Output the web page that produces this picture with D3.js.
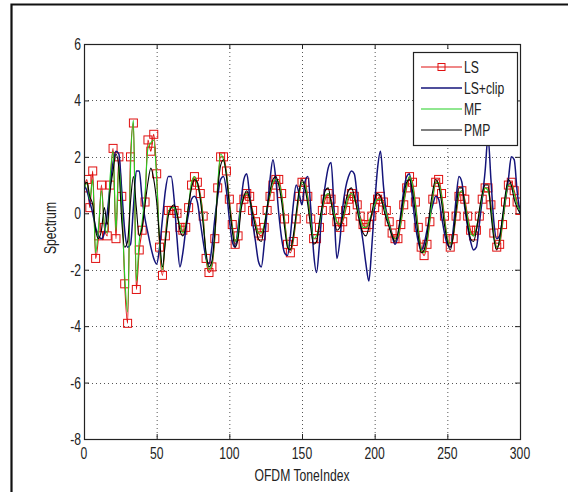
<!DOCTYPE html>
<html>
<head>
<meta charset="utf-8">
<script src="https://cdn.jsdelivr.net/npm/d3@7"></script>
<style>
  body { margin: 0; background: #ffffff; }
  text { font-family: "Liberation Sans", Arial, sans-serif; fill: #222; }
  .tickLabel { font-size: 16px; }
  .axisLabel { font-size: 16px; }
  .legendLabel { font-size: 16px; }
</style>
</head>
<body>
<div id="graph"></div>
<script>

// tone index of each sample (every 2nd tone, 0..300)
var toneIndex = d3.range (0, 301, 2);

// one value per toneIndex entry
var lsValues = [
     0.9,  1.2,  0.2,  1.5, -1.6, -0.8,  1.0, -0.5, -0.8,  1.0,  2.3, -0.9,  2.0,  0.6, -2.5, -3.9,  2.0,  3.2, -2.7, -1.3, -0.6,  0.4,  2.6,  2.2,  2.8,  1.4,
    -1.2, -2.2, -0.8,  0.1,  0.1,  0.1,  0.0, -0.5, -0.6, -0.5,  0.2,  1.0,  1.3,  1.1,  0.7, -0.1, -1.6, -2.1, -1.9, -0.9,  0.9,  2.0,  2.0,  1.5,  0.5,
    -0.4, -1.1, -0.8,  0.2,  0.5,  0.7,  0.6,  0.1, -0.3, -0.7, -0.8, -0.5,  0.1,  0.6,  1.0,  1.2,  1.2,  0.7, -0.2, -1.1, -1.4, -1.0, -0.2,  0.6,  1.1,
     1.1,  0.6, -0.2, -0.9, -0.9, -0.5,  0.1,  0.5,  0.7,  0.5,  0.1, -0.3, -0.5, -0.3,  0.1,  0.5,  0.7,  0.6,  0.3, -0.1, -0.4, -0.5, -0.4, -0.1,  0.2,
     0.5,  0.6,  0.4,  0.1, -0.3, -0.7, -0.9, -0.9, -0.4,  0.3,  0.9,  1.3,  1.1,  0.4, -0.5, -1.2, -1.5, -1.1, -0.3,  0.5,  1.1,  1.2,  0.7, -0.1, -0.9,
    -1.2, -0.9, -0.1,  0.6,  0.8,  0.5, -0.1, -0.6, -0.8, -0.6, -0.1,  0.5,  0.9,  0.9,  0.3, -0.7, -1.2, -1.1, -0.4,  0.4,  1.0,  1.1,  0.8,  0.4,  0.1
];

var lsClipValues = [
     1.0,  0.8,  0.4,  0.0, -0.5, -0.8, -0.9, -0.7,  0.0,  1.0,  1.8,  2.2,  2.1,  0.8, -0.6, -1.2, -1.1,  0.2,  1.5,  1.5,  0.5, -0.2, -0.7, -1.2, -1.6, -1.8,
    -1.2, -0.2,  0.8,  1.3,  1.3,  0.5, -0.9, -1.9, -1.4, -0.6,  0.0,  0.5,  0.6,  0.4, -0.3, -1.0, -1.6, -1.8, -1.2, -0.2,  0.6,  1.2,  1.3,  0.8, -0.2,
    -1.0, -1.2, -0.5,  0.4,  1.2,  1.4,  0.6, -0.3, -1.0, -1.7, -1.9, -1.1,  0.1,  1.2,  1.9,  1.2,  0.0, -0.9, -1.4, -1.5, -0.8,  0.3,  1.0,  0.7,  0.3,
     1.1,  1.3,  0.2, -1.4, -2.1, -1.1,  0.2,  1.0,  1.6,  1.8,  0.2, -1.6, -1.0,  0.2,  0.9,  1.3,  1.5,  1.4,  0.6, -0.3, -1.0, -1.8, -2.4, -1.2,  0.3,
     1.6,  2.2,  1.0,  0.0, -0.4, -0.8, -1.1, -0.8,  0.0,  0.8,  1.3,  1.4,  0.5, -0.4, -1.0, -1.3, -1.1, -0.6, -0.1,  0.3,  0.6,  0.5, -0.1, -0.7, -1.1,
    -1.2, -0.6,  0.5,  1.3,  1.1,  0.2, -0.5, -1.0, -1.3, -1.2, -0.4,  0.5,  1.5,  2.7,  1.2, -0.3, -0.9, -0.8, -0.2,  0.5,  1.2,  2.0,  1.9,  0.8,  0.0
];

var mfValues = [
     0.8,  1.1,  0.5,  1.2, -1.4, -0.5,  0.8, -0.4, -0.7,  1.3,  2.2, -0.6,  1.7,  0.2, -2.2, -3.5,  1.6,  3.3, -2.4, -1.0, -0.3,  0.7,  2.3,  2.5,  2.6,  1.2,
    -1.0, -2.0, -0.9,  0.0,  0.2,  0.2, -0.1, -0.4, -0.7, -0.4,  0.3,  1.1,  1.3,  1.0,  0.6, -0.2, -1.5, -2.0, -1.8, -0.8,  1.0,  2.1,  1.9,  1.4,  0.4,
    -0.5, -1.0, -0.7,  0.3,  0.6,  0.7,  0.5,  0.0, -0.4, -0.7, -0.7, -0.4,  0.2,  0.7,  1.1,  1.2,  1.1,  0.6, -0.3, -1.1, -1.3, -0.9, -0.1,  0.7,  1.1,
     1.0,  0.5, -0.3, -0.9, -0.8, -0.4,  0.2,  0.6,  0.7,  0.4,  0.0, -0.3, -0.4, -0.2,  0.2,  0.6,  0.7,  0.5,  0.2, -0.2, -0.5, -0.5, -0.3,  0.0,  0.3,
     0.5,  0.5,  0.3,  0.0, -0.4, -0.8, -0.9, -0.8, -0.3,  0.4,  1.0,  1.3,  1.0,  0.3, -0.6, -1.3, -1.4, -1.0, -0.2,  0.6,  1.1,  1.1,  0.6, -0.2, -0.9,
    -1.1, -0.8,  0.0,  0.7,  0.8,  0.4, -0.2, -0.7, -0.8, -0.5,  0.0,  0.6,  0.9,  0.8,  0.2, -0.8, -1.2, -1.0, -0.3,  0.5,  1.0,  1.0,  0.7,  0.3,  0.1
];

var pmpValues = [
     1.0,  1.1,  0.6,  0.3, -0.6, -0.9, -0.6,  0.2, -0.4,  0.8,  1.5,  2.1,  1.6, -0.3, -1.2, -1.0,  0.4,  1.3,  0.2, -0.8, -0.5,  0.3,  1.1,  1.6,  1.2,  0.4,
    -0.9, -1.9, -1.0, -0.1,  0.2,  0.3,  0.0, -0.6, -0.8, -0.5,  0.3,  0.9,  1.2,  1.1,  0.5, -0.4, -1.4, -1.9, -1.7, -0.7,  0.8,  1.7,  1.9,  1.3,  0.3,
    -0.6, -1.2, -0.9,  0.1,  0.6,  0.8,  0.5,  0.0, -0.5, -0.9, -1.0, -0.5,  0.2,  0.8,  1.2,  1.3,  1.0,  0.4, -0.5, -1.2, -1.3, -0.8,  0.0,  0.8,  1.2,
     0.9,  0.3, -0.5, -1.1, -1.0, -0.3,  0.3,  0.8,  0.9,  0.4, -0.2, -0.6, -0.5, -0.1,  0.4,  0.8,  0.9,  0.6,  0.1, -0.4, -0.7, -0.8, -0.5,  0.0,  0.5,
     0.7,  0.6,  0.2, -0.2, -0.5, -0.8, -1.0, -0.7, -0.1,  0.6,  1.1,  1.2,  0.8,  0.0, -0.8, -1.4, -1.3, -0.8,  0.1,  0.8,  1.2,  1.0,  0.4, -0.4, -1.0,
    -1.3, -0.8,  0.1,  0.9,  0.9,  0.3, -0.4, -0.9, -1.0, -0.6,  0.1,  0.7,  1.0,  1.0,  0.0, -0.9, -1.3, -0.9, -0.1,  0.7,  1.2,  1.0,  0.5,  0.2,  0.0
];

var xTicks = [0, 50, 100, 150, 200, 250, 300];
var yTicks = [-8, -6, -4, -2, 0, 2, 4, 6];

var seriesNames   = [ 'LS', 'LS+clip', 'MF', 'PMP' ];
var seriesColours = [ '#e01010', '#14147a', '#22d022', '#000000' ];


var svgWidth  = 568;
var svgHeight = 492;
var plot = { left: 84, right: 520, top: 44, bottom: 439 };

// MATLAB's label font is tall and narrow, squeeze the glyphs horizontally
var squeeze = 0.76;

var xScale = d3.scaleLinear ()
               .domain ([0, 300])
               .range ([plot.left, plot.right]);

var yScale = d3.scaleLinear ()
               .domain ([-8, 6])
               .range ([plot.bottom, plot.top]);

var svg = d3.select ('div#graph')
            .append ('svg')
            .attr ('width', svgWidth)
            .attr ('height', svgHeight);

svg.append ('rect')
   .attr ('width', svgWidth)
   .attr ('height', svgHeight)
   .attr ('fill', '#ffffff');

// figure frame (only top and left edges are in the picture)
svg.append ('path')
   .attr ('d', 'M11.5,' + svgHeight + 'V4.5H' + svgWidth)
   .attr ('fill', 'none')
   .attr ('stroke', '#111')
   .attr ('stroke-width', 2.2);

var addText = function (parent, cls, x, y, anchor, str, rotate)
{
    return parent.append ('text')
                 .attr ('class', cls)
                 .attr ('transform', 'translate(' + x + ',' + y + ')' + (rotate ? ' rotate(-90)' : '') + ' scale(' + squeeze + ',1)')
                 .style ('text-anchor', anchor)
                 .text (str);
};

//
// grid, ticks, box
//
var grid = svg.append ('g').attr ('class', 'grid');

grid.selectAll ('.vgrid')
    .data (xTicks.slice (1, -1))
    .enter ()
    .append ('line')
    .attr ('x1', d => xScale (d) + 0.5)
    .attr ('x2', d => xScale (d) + 0.5)
    .attr ('y1', plot.top)
    .attr ('y2', plot.bottom)
    .attr ('stroke', '#555')
    .attr ('stroke-dasharray', '1,3');

grid.selectAll ('.hgrid')
    .data (yTicks.slice (1, -1))
    .enter ()
    .append ('line')
    .attr ('y1', d => Math.round (yScale (d)) + 0.5)
    .attr ('y2', d => Math.round (yScale (d)) + 0.5)
    .attr ('x1', plot.left)
    .attr ('x2', plot.right)
    .attr ('stroke', '#555')
    .attr ('stroke-dasharray', '1,3');

// inward ticks on all four sides
var tickLen = 5;

var xAxisBottom = d3.axisBottom (xScale).tickValues (xTicks).tickSize (-tickLen).tickFormat ('');
var xAxisTop    = d3.axisTop (xScale).tickValues (xTicks).tickSize (-tickLen).tickFormat ('');
var yAxisLeft   = d3.axisLeft (yScale).tickValues (yTicks).tickSize (-tickLen).tickFormat ('');
var yAxisRight  = d3.axisRight (yScale).tickValues (yTicks).tickSize (-tickLen).tickFormat ('');

svg.append ('g').attr ('class', 'x axis').attr ('transform', 'translate(0,' + plot.bottom + ')').call (xAxisBottom);
svg.append ('g').attr ('class', 'x axis').attr ('transform', 'translate(0,' + plot.top + ')').call (xAxisTop);
svg.append ('g').attr ('class', 'y axis').attr ('transform', 'translate(' + plot.left + ',0)').call (yAxisLeft);
svg.append ('g').attr ('class', 'y axis').attr ('transform', 'translate(' + plot.right + ',0)').call (yAxisRight);

svg.selectAll ('.axis .domain').remove ();
svg.selectAll ('.axis line').attr ('stroke', '#222');

//
// data lines
//
svg.append ('clipPath')
   .attr ('id', 'plotClip')
   .append ('rect')
   .attr ('x', plot.left)
   .attr ('y', plot.top)
   .attr ('width', plot.right - plot.left)
   .attr ('height', plot.bottom - plot.top);

var allValues = [ lsValues, lsClipValues, mfValues, pmpValues ];

var lineFor = function (values)
{
    return d3.line ()
             .x ((d, i) => xScale (toneIndex[i]))
             .y ((d, i) => yScale (values[i]))
             .curve (d3.curveMonotoneX) (values);
};

var dataLayer = svg.append ('g').attr ('clip-path', 'url(#plotClip)');

for (var s = 0; s < allValues.length; s++)
{
    dataLayer.append ('path')
             .attr ('d', lineFor (allValues[s]))
             .attr ('fill', 'none')
             .attr ('stroke', seriesColours[s])
             .attr ('stroke-width', s == 1 ? 1.5 : 1.1);

    if (s == 0)
    {
        // LS square markers
        dataLayer.selectAll ('.lsMarker')
                 .data (lsValues)
                 .enter ()
                 .append ('rect')
                 .attr ('class', 'lsMarker')
                 .attr ('x', (d, i) => xScale (toneIndex[i]) - 4)
                 .attr ('y', d => yScale (d) - 4)
                 .attr ('width', 8)
                 .attr ('height', 8)
                 .attr ('fill', 'none')
                 .attr ('stroke', seriesColours[0])
                 .attr ('stroke-width', 1);
    }
}

// axes box
svg.append ('rect')
   .attr ('x', plot.left + 0.5)
   .attr ('y', plot.top + 0.5)
   .attr ('width', plot.right - plot.left)
   .attr ('height', plot.bottom - plot.top)
   .attr ('fill', 'none')
   .attr ('stroke', '#222')
   .attr ('stroke-width', 1.2);

//
// tick labels and axis labels
//
xTicks.forEach (function (d)
{
    addText (svg, 'tickLabel', xScale (d), 459, 'middle', d);
});

yTicks.forEach (function (d)
{
    addText (svg, 'tickLabel', 81, yScale (d) + 6, 'end', d);
});

addText (svg, 'axisLabel', (plot.left + plot.right) / 2, 481, 'middle', 'OFDM ToneIndex');
addText (svg, 'axisLabel', 56, 228, 'middle', 'Spectrum', true);

//
// legend
//
var legend = svg.append ('g').attr ('class', 'legend');

legend.append ('rect')
      .attr ('x', 413.5)
      .attr ('y', 52.5)
      .attr ('width', 104)
      .attr ('height', 93)
      .attr ('fill', '#ffffff')
      .attr ('stroke', '#222')
      .attr ('stroke-width', 1.2);

var legendTop  = 67;
var legendStep = 21;

for (var i = 0; i < seriesNames.length; i++)
{
    var ly = legendTop + i * legendStep;

    legend.append ('line')
          .attr ('x1', 421)
          .attr ('x2', 462)
          .attr ('y1', ly)
          .attr ('y2', ly)
          .attr ('stroke', seriesColours[i])
          .attr ('stroke-width', i == 1 ? 1.5 : 1.1);

    if (i == 0)
    {
        legend.append ('rect')
              .attr ('x', 441.5 - 3.5)
              .attr ('y', ly - 3.5)
              .attr ('width', 7)
              .attr ('height', 7)
              .attr ('fill', 'none')
              .attr ('stroke', seriesColours[0]);
    }

    addText (legend, 'legendLabel', 464, ly + 6, 'start', seriesNames[i]);
}

</script>
</body>
</html>
